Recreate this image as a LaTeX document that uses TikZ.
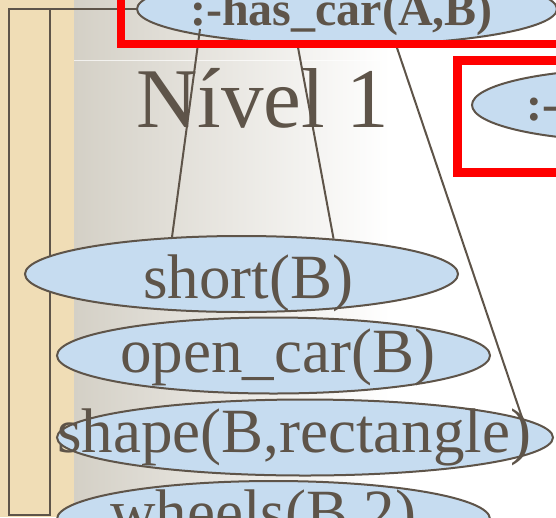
\documentclass[tikz,border=0pt]{standalone}
\usepackage{fontspec}
\setmainfont{Liberation Serif}
\usetikzlibrary{shapes.geometric}
\definecolor{ink}{HTML}{5E5449}
\definecolor{blobc}{HTML}{C6DCF0}
\definecolor{parch}{HTML}{F0DDB6}
\definecolor{grayL}{HTML}{D4D0C6}
\pgfdeclarelayer{bg}
\pgfdeclarelayer{mid}
\pgfsetlayers{bg,mid,main}
\begin{document}
\begin{tikzpicture}[x=1pt,y=-1pt,
  blobe/.style={ellipse, draw=ink, fill=blobc, line width=2pt, inner sep=0pt},
  bigtxt/.style={text=ink, inner sep=0pt, anchor=base west, font=\fontsize{63}{63}\selectfont},
  boldtxt/.style={text=ink, inner sep=0pt, anchor=base west, font=\bfseries\fontsize{48}{48}\selectfont},
  conn/.style={draw=ink, line width=2pt},
  redbox/.style={draw=red, line width=8.5pt}]
\useasboundingbox (0,0) rectangle (556,517);
\begin{pgfonlayer}{bg}
\begin{scope}
\clip (0,0) rectangle (556,517);
\fill[parch] (0,0) rectangle (74,517);
\shade[left color=grayL, right color=white] (74,0) rectangle (390,517);
\fill[white] (390,0) rectangle (556,517);
\draw[white, opacity=0.7, line width=1pt] (74,60) -- (556,60);
\node[text=ink, inner sep=0pt, anchor=base west, font=\fontsize{85}{85}\selectfont] (lvl) at (136,127) {Nível 1};
\node[blobe, minimum width=420pt, minimum height=72pt] (has) at (347,9) {};
\node[boldtxt] (hastxt) at (190,25) {:-has\_car(A,B)};
\coordinate (f1) at (9,9);
\coordinate (f2) at (9,515);
\coordinate (f3) at (50,515);
\coordinate (f4) at (50,9);
\draw[conn] (has.west) -- (f1) -- (f2) -- (f3) -- (f4);
\end{scope}
\end{pgfonlayer}
\begin{scope}
\clip (0,0) rectangle (556,517);
\draw[redbox] (121,-20) rectangle (600,44);
\draw[redbox, line width=9pt] (457.5,60.5) rectangle (620,172.5);
\node[blobe, minimum width=320pt, minimum height=72pt] (e2) at (632,105) {};
\node[boldtxt] (e2txt) at (526,120) {:-};
\node[blobe, minimum width=433pt, minimum height=76pt] (short) at (241.5,274) {};
\node[bigtxt] (shorttxt) at (143,298) {short(B)};
\node[blobe, minimum width=433pt, minimum height=76pt] (open) at (273.5,355.5) {};
\node[bigtxt] (opentxt) at (120,372) {open\_car(B)};
\node[blobe, minimum width=496pt, minimum height=76pt] (shape) at (305,437.5) {};
\node[bigtxt] (shapetxt) at (57,452) {shape(B,rectangle)};
\node[blobe, minimum width=433pt, minimum height=76pt] (wheels) at (273.5,519) {};
\node[bigtxt] (wheelstxt) at (110,533) {wheels(B,2)};
\end{scope}
\begin{pgfonlayer}{mid}
\coordinate (a1) at (200,29);
\coordinate (a2) at (297,42);
\coordinate (a3) at (395,42);
\draw[conn] (a1) -- (short.152.6);
\draw[conn] (a2) -- (short.21.4);
\draw[conn] (a3) -- (shape.5);
\end{pgfonlayer}
\end{tikzpicture}
\end{document}
